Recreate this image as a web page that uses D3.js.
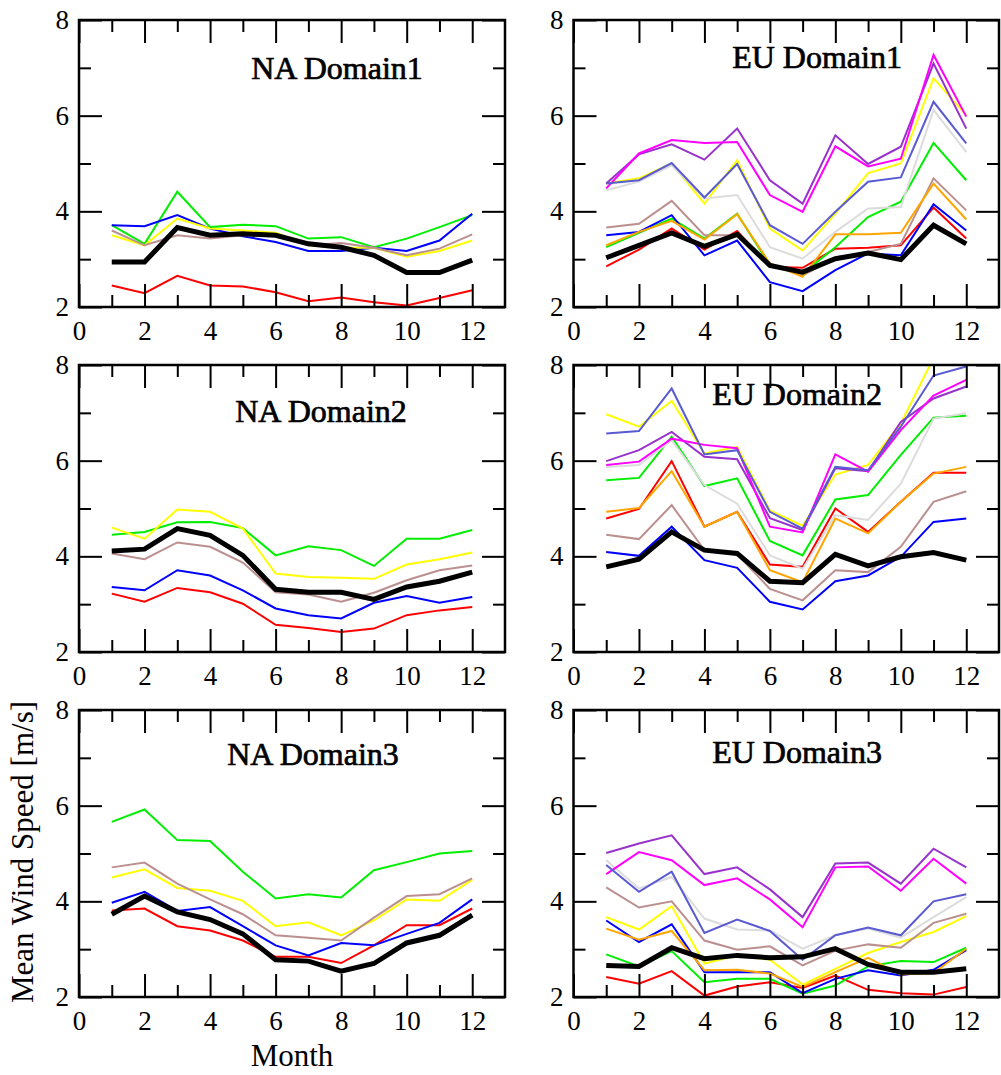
<!DOCTYPE html>
<html><head><meta charset="utf-8">
<script src="https://cdn.jsdelivr.net/npm/d3@7"></script>
<style>
html,body{margin:0;padding:0;background:#fff;}
svg{display:block;}
svg text{font-family:"Liberation Serif","Times New Roman",Times,serif !important;fill:#000;}
</style>
</head><body>
<svg id="chart" width="1001" height="1075"></svg>
<script>
// ---------- data ----------
const months = [1,2,3,4,5,6,7,8,9,10,11,12];
const xTicks = [0,2,4,6,8,10,12];
const yTicks = [2,4,6,8];
const panelTitles = ["NA Domain1","EU Domain1","NA Domain2","EU Domain2","NA Domain3","EU Domain3"];

const naSeries = ["black","red","green","blue","yellow","brown"];
const euSeries = ["black","red","green","blue","yellow","brown","gray","violet","magenta","orange","slate"];
const seriesColor = {black:"#000000",red:"#ff0000",green:"#00ee00",blue:"#0000ff",yellow:"#ffff00",
  brown:"#bc8f8f",gray:"#dcdcdc",violet:"#9932cc",magenta:"#ff00ff",orange:"#ffa500",slate:"#5a5ad2"};

const naDomain1 = [
  [2.94,2.94,3.66,3.50,3.53,3.50,3.32,3.25,3.08,2.72,2.72,2.98],
  [2.45,2.29,2.65,2.45,2.43,2.31,2.12,2.20,2.10,2.03,2.19,2.35],
  [3.71,3.32,4.41,3.67,3.72,3.69,3.43,3.46,3.25,3.43,3.67,3.92],
  [3.71,3.69,3.92,3.64,3.48,3.36,3.17,3.17,3.24,3.17,3.39,3.95],
  [3.50,3.29,3.85,3.64,3.60,3.55,3.29,3.24,3.24,3.05,3.17,3.39],
  [3.60,3.29,3.50,3.43,3.50,3.50,3.29,3.34,3.24,3.08,3.22,3.52]
];
const naDomain2 = [
  [4.11,4.15,4.58,4.44,4.02,3.31,3.25,3.25,3.10,3.36,3.48,3.67],
  [3.22,3.05,3.34,3.25,3.01,2.57,2.50,2.42,2.49,2.77,2.87,2.94],
  [4.45,4.51,4.71,4.72,4.59,4.02,4.21,4.13,3.80,4.37,4.37,4.55],
  [3.36,3.29,3.71,3.60,3.29,2.91,2.77,2.70,3.03,3.17,3.03,3.15],
  [4.60,4.37,4.98,4.93,4.58,3.64,3.57,3.55,3.53,3.83,3.94,4.08],
  [4.06,3.94,4.29,4.20,3.87,3.25,3.20,3.05,3.24,3.50,3.71,3.81]
];
const naDomain3 = [
  [3.73,4.11,3.78,3.62,3.32,2.78,2.75,2.54,2.70,3.13,3.29,3.71],
  [3.81,3.85,3.48,3.39,3.18,2.84,2.84,2.71,3.08,3.50,3.50,3.85],
  [5.66,5.92,5.28,5.26,4.62,4.06,4.15,4.08,4.65,4.82,5.00,5.05],
  [3.97,4.20,3.80,3.88,3.48,3.08,2.87,3.13,3.08,3.32,3.55,4.04],
  [4.50,4.67,4.28,4.22,4.01,3.48,3.56,3.29,3.60,4.04,4.01,4.45],
  [4.71,4.81,4.37,4.04,3.73,3.29,3.24,3.18,3.66,4.11,4.15,4.48]
];
const euDomain1 = [
  [3.03,3.29,3.55,3.27,3.52,2.87,2.73,3.01,3.13,2.99,3.71,3.32],
  [2.85,3.20,3.64,3.20,3.59,2.84,2.82,3.22,3.24,3.29,4.08,3.43],
  [3.25,3.55,3.85,3.43,3.95,2.87,2.70,3.25,3.88,4.20,5.43,4.65],
  [3.50,3.57,3.92,3.08,3.39,2.52,2.33,2.77,3.12,3.08,4.15,3.60],
  [4.58,4.69,5.00,4.16,5.07,3.64,3.18,3.95,4.80,5.00,6.78,6.01],
  [3.66,3.74,4.22,3.50,3.50,2.91,2.66,3.01,3.15,3.32,4.69,4.02],
  [4.44,4.62,4.96,4.27,4.34,3.25,3.01,3.57,4.06,4.09,6.12,5.24],
  [4.58,5.19,5.40,5.08,5.73,4.65,4.16,5.59,4.99,5.35,7.09,5.73],
  [4.48,5.21,5.49,5.43,5.45,4.34,3.99,5.36,4.94,5.10,7.27,5.98],
  [3.29,3.57,3.80,3.41,3.94,2.91,2.63,3.52,3.52,3.55,4.58,3.83],
  [4.58,4.65,5.01,4.29,4.99,3.71,3.32,3.99,4.62,4.71,6.29,5.42]
];
const euDomain2 = [
  [3.78,3.94,4.51,4.13,4.06,3.48,3.45,4.04,3.80,3.99,4.08,3.92],
  [4.79,4.99,5.99,4.62,4.93,3.83,3.78,5.00,4.51,5.14,5.75,5.75],
  [5.59,5.64,6.50,5.47,5.63,4.32,4.02,5.19,5.28,6.12,6.90,6.94],
  [4.09,4.01,4.62,3.92,3.76,3.05,2.89,3.48,3.60,3.99,4.72,4.79],
  [6.97,6.71,7.25,6.15,6.29,4.96,4.64,5.71,5.91,6.78,8.15,8.40],
  [4.45,4.36,5.07,4.13,4.04,3.32,3.08,3.71,3.67,4.20,5.14,5.36],
  [5.87,5.91,6.43,5.49,5.10,4.02,3.74,4.86,4.76,5.52,6.88,6.99],
  [5.99,6.22,6.60,6.08,6.03,4.80,4.55,5.84,5.78,6.81,7.30,7.55],
  [5.91,5.98,6.46,6.33,6.26,4.62,4.50,6.13,5.77,6.64,7.36,7.69],
  [4.93,5.01,5.78,4.62,4.93,3.71,3.46,4.79,4.48,5.14,5.73,5.87],
  [6.57,6.62,7.51,6.13,6.22,4.93,4.58,5.87,5.80,6.71,7.78,7.97]
];
const euDomain3 = [
  [2.66,2.64,3.03,2.80,2.87,2.82,2.84,3.01,2.68,2.52,2.52,2.59],
  [2.42,2.28,2.54,2.03,2.22,2.31,2.19,2.45,2.15,2.08,2.05,2.21],
  [2.89,2.64,2.96,2.31,2.38,2.38,2.07,2.24,2.64,2.75,2.73,3.03],
  [3.60,3.15,3.52,2.52,2.52,2.52,2.08,2.38,2.56,2.45,2.57,2.98],
  [3.67,3.41,3.90,2.70,2.87,2.78,2.26,2.59,2.92,3.15,3.36,3.69],
  [4.29,3.87,4.00,3.18,2.99,3.06,2.66,2.97,3.10,3.03,3.55,3.74],
  [4.86,4.27,4.51,3.64,3.41,3.39,3.01,3.29,3.43,3.24,3.67,4.09],
  [5.01,5.21,5.38,4.57,4.71,4.25,3.67,4.79,4.81,4.37,5.10,4.71],
  [4.57,5.03,4.86,4.34,4.48,4.04,3.46,4.71,4.73,4.22,4.89,4.37],
  [3.43,3.20,3.38,2.56,2.57,2.49,2.21,2.52,2.82,2.47,2.50,3.01],
  [4.76,4.20,4.62,3.34,3.62,3.38,2.78,3.29,3.45,3.29,4.00,4.15]
];

// ---------- layout ----------
const svg = d3.select("#chart");
const colX = [{l:79,r:505},{l:573.5,r:999}];
const rowY = [{t:20,b:307},{t:365,b:652},{t:710,b:997}];
const panels = [
  {title:panelTitles[0], data:naDomain1, series:naSeries, col:0,row:0, tx:337, ty:79},
  {title:panelTitles[1], data:euDomain1, series:euSeries, col:1,row:0, tx:817, ty:68},
  {title:panelTitles[2], data:naDomain2, series:naSeries, col:0,row:1, tx:321, ty:422},
  {title:panelTitles[3], data:euDomain2, series:euSeries, col:1,row:1, tx:797, ty:405},
  {title:panelTitles[4], data:naDomain3, series:naSeries, col:0,row:2, tx:313, ty:765},
  {title:panelTitles[5], data:euDomain3, series:euSeries, col:1,row:2, tx:797, ty:763}
];
const majorLen = 23, minorLen = 12;

panels.forEach((p,i)=>{
  const X = colX[p.col], Y = rowY[p.row];
  const x = d3.scaleLinear().domain([0,13]).range([X.l,X.r]);
  const y = d3.scaleLinear().domain([2,8]).range([Y.b,Y.t]);
  const g = svg.append("g");

  g.append("clipPath").attr("id","clip"+i).append("rect")
    .attr("x",X.l).attr("y",Y.t).attr("width",X.r-X.l).attr("height",Y.b-Y.t);

  // lines
  const line = d3.line().x((d,j)=>x(months[j])).y(d=>y(d));
  const lg = g.append("g").attr("clip-path","url(#clip"+i+")");
  p.series.forEach((s,k)=>{
    if (s==="black") return;
    lg.append("path").datum(p.data[k]).attr("d",line)
      .attr("fill","none").attr("stroke",seriesColor[s]).attr("stroke-width",2)
      .attr("stroke-linejoin","miter");
  });
  const bk = p.series.indexOf("black");
  lg.append("path").datum(p.data[bk]).attr("d",line)
    .attr("fill","none").attr("stroke","#000").attr("stroke-width",5)
    .attr("stroke-linejoin","miter");

  // axes (inward ticks, mirrored)
  const xMinor = [1,3,5,7,9,11];
  const yMinor = [3,5,7];
  const bottom = g.append("g").attr("transform",`translate(0,${Y.b})`)
    .call(d3.axisBottom(x).tickValues(xTicks).tickSize(-majorLen).tickPadding(14).tickFormat(d3.format("d")));
  const bottomMin = g.append("g").attr("transform",`translate(0,${Y.b})`)
    .call(d3.axisBottom(x).tickValues(xMinor).tickSize(-minorLen).tickFormat(""));
  const top = g.append("g").attr("transform",`translate(0,${Y.t})`)
    .call(d3.axisTop(x).tickValues(xTicks).tickSize(-majorLen).tickFormat(""));
  const topMin = g.append("g").attr("transform",`translate(0,${Y.t})`)
    .call(d3.axisTop(x).tickValues(xMinor).tickSize(-minorLen).tickFormat(""));
  const left = g.append("g").attr("transform",`translate(${X.l},0)`)
    .call(d3.axisLeft(y).tickValues(yTicks).tickSize(-majorLen).tickPadding(10).tickFormat(d3.format("d")));
  const leftMin = g.append("g").attr("transform",`translate(${X.l},0)`)
    .call(d3.axisLeft(y).tickValues(yMinor).tickSize(-minorLen).tickFormat(""));
  const right = g.append("g").attr("transform",`translate(${X.r},0)`)
    .call(d3.axisRight(y).tickValues(yTicks).tickSize(-majorLen).tickFormat(""));
  const rightMin = g.append("g").attr("transform",`translate(${X.r},0)`)
    .call(d3.axisRight(y).tickValues(yMinor).tickSize(-minorLen).tickFormat(""));
  [bottom,bottomMin,top,topMin,left,leftMin,right,rightMin].forEach(a=>{
    a.attr("font-family",null).attr("font-size",null);
    a.select(".domain").remove();
    a.selectAll(".tick line").attr("stroke","#000").attr("stroke-width",2);
    a.selectAll("text").attr("font-size",27).attr("fill","#000");
  });
  g.append("rect").attr("x",X.l).attr("y",Y.t).attr("width",X.r-X.l).attr("height",Y.b-Y.t)
    .attr("fill","none").attr("stroke","#000").attr("stroke-width",2.5);

  g.append("text").attr("x",p.tx).attr("y",p.ty).attr("text-anchor","middle")
    .attr("font-size",32).attr("stroke","#000").attr("stroke-width",0.7).text(p.title);
});

svg.append("text").attr("x",292).attr("y",1066).attr("text-anchor","middle")
  .attr("font-size",31).text("Month");
svg.append("text").attr("transform","translate(33,852) rotate(-90)").attr("text-anchor","middle")
  .attr("font-size",31).text("Mean Wind Speed [m/s]");
</script>
</body></html>
